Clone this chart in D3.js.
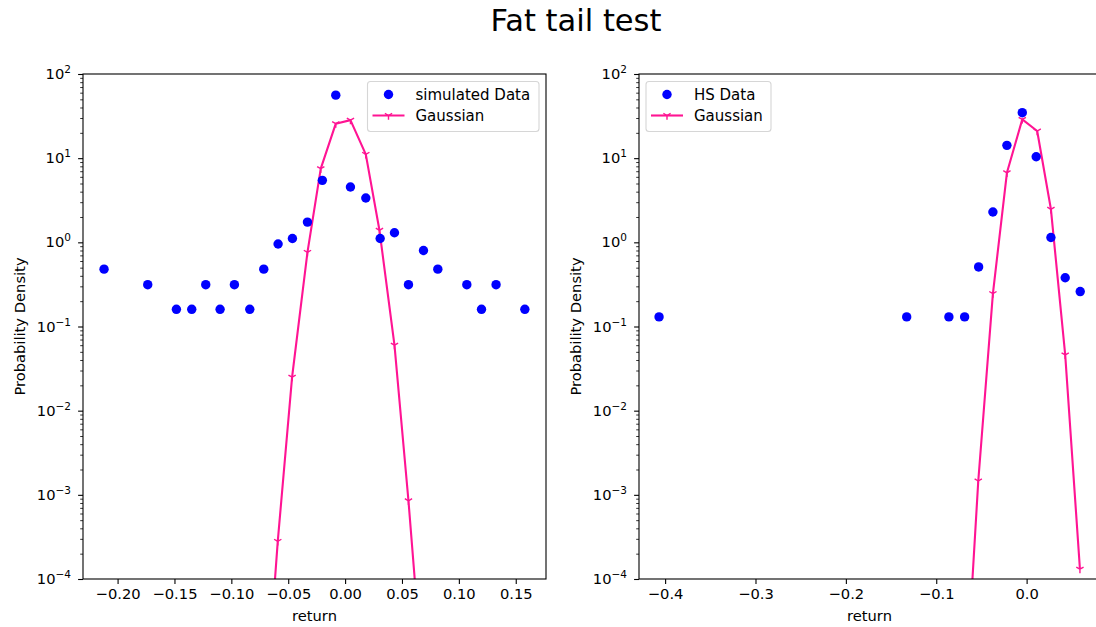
<!DOCTYPE html>
<html>
<head>
<meta charset="utf-8">
<script src="https://cdn.jsdelivr.net/npm/d3@7"></script>
<style>
  html, body { margin: 0; padding: 0; background: #fff; overflow: hidden; }
  svg { display: block; font-family: "DejaVu Sans", sans-serif; }
</style>
</head>
<body>
<svg id="chart" width="1096" height="627"></svg>
<script>
// ---------- data ----------
const simX = [-0.2119, -0.1735, -0.1483, -0.1348, -0.1225, -0.1099, -0.0973, -0.0838, -0.0715, -0.0589,
              -0.0463, -0.0331, -0.0200, -0.0082, 0.0047, 0.0182, 0.0308, 0.0434, 0.0557, 0.0689,
              0.0815, 0.1070, 0.1199, 0.1327, 0.1580];
const simY = [0.48, 0.314, 0.16, 0.16, 0.314, 0.16, 0.314, 0.16, 0.48, 0.955,
              1.11, 1.74, 5.45, 56.1, 4.54, 3.36, 1.11, 1.30, 0.314, 0.80,
              0.48, 0.314, 0.16, 0.314, 0.16];
const gaussX1 = [-0.0715, -0.0592, -0.0466, -0.0331, -0.0214, -0.0082, 0.0047, 0.0182, 0.0302, 0.0434, 0.0557, 0.0689];
const gaussY1 = [1.5e-6, 2.8e-4, 0.025, 0.76, 7.5, 25.7, 28.3, 11.1, 1.39, 0.06, 8.5e-4, 5e-6];

const hsX = [-0.4067, -0.1327, -0.0860, -0.0686, -0.0531, -0.0373, -0.0218, -0.0048, 0.0106, 0.0269, 0.0427, 0.0593];
const hsY = [0.13, 0.13, 0.13, 0.13, 0.51, 2.29, 14.2, 34.7, 10.4, 1.14, 0.38, 0.26];
const gaussX2 = [-0.0686, -0.0535, -0.0373, -0.0218, -0.0048, 0.0117, 0.0269, 0.0427, 0.0590];
const gaussY2 = [2.7e-6, 1.46e-3, 0.246, 6.7, 28.9, 21, 2.47, 0.046, 1.31e-4];

const xTicks1 = [-0.20, -0.15, -0.10, -0.05, 0.00, 0.05, 0.10, 0.15];
const xTicks2 = [-0.4, -0.3, -0.2, -0.1, 0.0];
const yExponents = [-4, -3, -2, -1, 0, 1, 2];

const titleText = "Fat tail test";
const xLabel = "return";
const yLabel = "Probability Density";
const legend1 = ["simulated Data", "Gaussian"];
const legend2 = ["HS Data", "Gaussian"];

// ---------- styling ----------
const dotColor = "#0000ff";
const lineColor = "#ff1493";
const fontSize = 14.7;

const svg = d3.select("#chart");

svg.append("text")
  .attr("x", 576).attr("y", 31)
  .attr("text-anchor", "middle")
  .attr("font-size", 30.5)
  .attr("fill", "#000")
  .text(titleText);

function panel(opts) {
  const { left, right, top, bottom, xDomain, xTicks, xFmt, dataX, dataY, gX, gY, legendLabels, legendBox, id } = opts;
  const x = d3.scaleLinear().domain(xDomain).range([left, right]);
  const y = d3.scaleLog().domain([1e-4, 1e2]).range([bottom, top]);
  const g = svg.append("g");

  g.append("clipPath").attr("id", id)
    .append("rect").attr("x", left).attr("y", top).attr("width", right - left).attr("height", bottom - top);

  // x axis
  const xAxis = d3.axisBottom(x).tickValues(xTicks).tickFormat(d3.format(xFmt)).tickSize(4.9).tickPadding(4.5);
  const xa = g.append("g").attr("transform", `translate(0,${bottom})`).call(xAxis);
  xa.select(".domain").remove();
  xa.selectAll(".tick line").attr("stroke", "#000").attr("stroke-width", 1.1);
  xa.selectAll(".tick text").attr("font-size", fontSize).attr("fill", "#000")
    .attr("font-family", "DejaVu Sans, sans-serif");

  // y axis major ticks
  const majors = yExponents.map(e => Math.pow(10, e));
  const yAxis = d3.axisLeft(y).tickValues(majors).tickFormat("").tickSize(4.9);
  const ya = g.append("g").attr("transform", `translate(${left},0)`).call(yAxis);
  ya.select(".domain").remove();
  ya.selectAll(".tick line").attr("stroke", "#000").attr("stroke-width", 1.1);

  // minor ticks
  const minors = [];
  for (let e = -4; e < 2; e++) for (let m = 2; m <= 9; m++) minors.push(m * Math.pow(10, e));
  const yMinor = d3.axisLeft(y).tickValues(minors).tickFormat("").tickSize(2.8);
  const ym = g.append("g").attr("transform", `translate(${left},0)`).call(yMinor);
  ym.select(".domain").remove();
  ym.selectAll(".tick line").attr("stroke", "#000").attr("stroke-width", 0.8);

  // y tick labels 10^e
  yExponents.forEach(e => {
    const t = g.append("text")
      .attr("x", left - 12).attr("y", y(Math.pow(10, e)) + 5)
      .attr("text-anchor", "end")
      .attr("font-size", fontSize).attr("fill", "#000");
    t.append("tspan").text("10");
    t.append("tspan").attr("dy", -6).attr("font-size", 10.5).text(e < 0 ? "\u2212" + (-e) : String(e));
  });

  // axis labels
  g.append("text")
    .attr("x", (left + right) / 2).attr("y", bottom + 42)
    .attr("text-anchor", "middle").attr("font-size", fontSize).attr("fill", "#000")
    .text(xLabel);
  g.append("text")
    .attr("transform", `translate(${left - 58},${(top + bottom) / 2}) rotate(-90)`)
    .attr("text-anchor", "middle").attr("font-size", fontSize).attr("fill", "#000")
    .text(yLabel);

  // plot contents (clipped)
  const plot = g.append("g").attr("clip-path", `url(#${id})`);
  const gData = gX.map((v, i) => [v, gY[i]]);
  const line = d3.line().x(d => x(d[0])).y(d => y(d[1]));
  plot.append("path").datum(gData)
    .attr("d", line).attr("fill", "none").attr("stroke", lineColor).attr("stroke-width", 2.1)
    .attr("stroke-linejoin", "round");
  const s = 4.2;
  const tri = `M0,0L0,${s}M0,0L${-0.866 * s},${-0.5 * s}M0,0L${0.866 * s},${-0.5 * s}`;
  plot.selectAll("path.tri").data(gData).join("path")
    .attr("class", "tri")
    .attr("transform", d => `translate(${x(d[0])},${y(d[1])})`)
    .attr("d", tri).attr("stroke", lineColor).attr("stroke-width", 1.4).attr("fill", "none");

  plot.selectAll("circle.dot").data(dataX.map((v, i) => [v, dataY[i]])).join("circle")
    .attr("class", "dot")
    .attr("cx", d => x(d[0])).attr("cy", d => y(d[1]))
    .attr("r", 4.7).attr("fill", dotColor);

  // frame
  g.append("rect").attr("x", left).attr("y", top).attr("width", right - left).attr("height", bottom - top)
    .attr("fill", "none").attr("stroke", "#000").attr("stroke-width", 1.1);

  // legend
  const lb = legendBox;
  const lg = g.append("g");
  lg.append("rect").attr("x", lb.x).attr("y", lb.y).attr("width", lb.w).attr("height", lb.h)
    .attr("rx", 3).attr("fill", "#fff").attr("fill-opacity", 0.8)
    .attr("stroke", "#d6d6d6").attr("stroke-width", 1.1);
  const hx0 = lb.x + 5, hx1 = lb.x + 37, hxc = (hx0 + hx1) / 2;
  const row1 = lb.y + 13, row2 = lb.y + 34;
  lg.append("circle").attr("cx", hxc).attr("cy", row1).attr("r", 4.7).attr("fill", dotColor);
  lg.append("line").attr("x1", hx0).attr("x2", hx1).attr("y1", row2).attr("y2", row2)
    .attr("stroke", lineColor).attr("stroke-width", 2.1);
  lg.append("path").attr("transform", `translate(${hxc},${row2})`).attr("d", tri)
    .attr("stroke", lineColor).attr("stroke-width", 1.4).attr("fill", "none");
  lg.append("text").attr("x", lb.x + 48).attr("y", row1 + 5).attr("font-size", 15).attr("fill", "#000").text(legendLabels[0]);
  lg.append("text").attr("x", lb.x + 48).attr("y", row2 + 5).attr("font-size", 15).attr("fill", "#000").text(legendLabels[1]);
}

panel({
  id: "clipL", left: 83, right: 546, top: 74, bottom: 579,
  xDomain: [-0.2304, 0.1766], xTicks: xTicks1, xFmt: ".2f",
  dataX: simX, dataY: simY, gX: gaussX1, gY: gaussY1,
  legendLabels: legend1, legendBox: { x: 367.5, y: 81.5, w: 171.5, h: 50 }
});
panel({
  id: "clipR", left: 639, right: 1100, top: 74, bottom: 579,
  xDomain: [-0.4289, 0.0812], xTicks: xTicks2, xFmt: ".1f",
  dataX: hsX, dataY: hsY, gX: gaussX2, gY: gaussY2,
  legendLabels: legend2, legendBox: { x: 646, y: 81.5, w: 125, h: 50 }
});
</script>
</body>
</html>
